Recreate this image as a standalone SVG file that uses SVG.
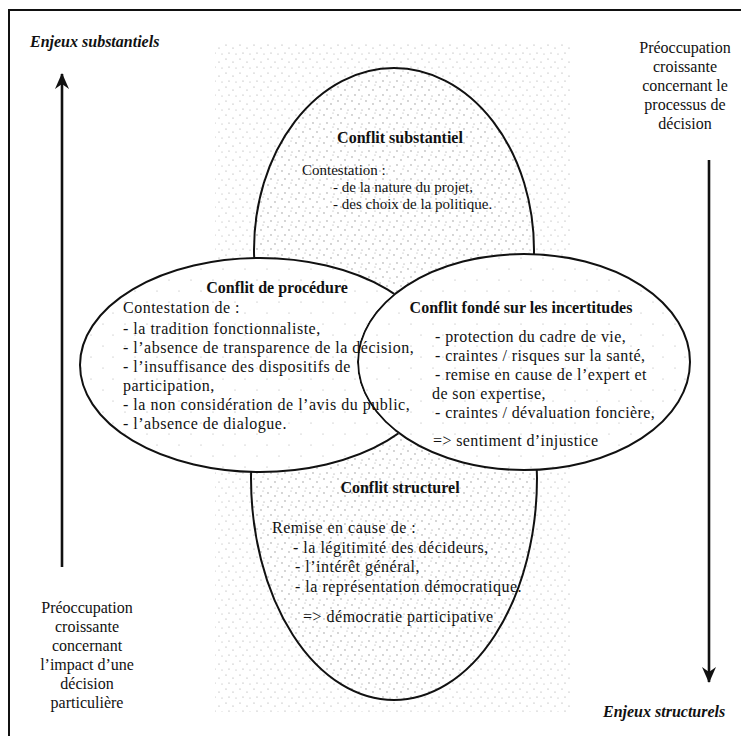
<svg xmlns="http://www.w3.org/2000/svg" width="741" height="736" viewBox="0 0 741 736">
<style>
  .t{font-family:"Liberation Serif","Times New Roman",serif;font-size:16px;fill:#111}
  .s{font-size:15px}
  .w{letter-spacing:0.5px}
  .b{font-weight:bold}
  .i{font-style:italic;font-weight:bold}
  .m{text-anchor:middle}
  .ell{stroke:#111;stroke-width:2}
  .frame{stroke:#111;stroke-width:2;fill:none}
  .arrow{stroke:#111;stroke-width:2.6;fill:none}
</style>
<defs>
  <pattern id="dots" width="14" height="14" patternUnits="userSpaceOnUse">
    <circle cx="2" cy="3" r="0.6" fill="#999"/>
    <circle cx="9" cy="6" r="0.6" fill="#999"/>
    <circle cx="5" cy="11" r="0.6" fill="#999"/>
    <circle cx="12" cy="12" r="0.5" fill="#999"/>
  </pattern>
  <pattern id="dotsW" width="14" height="14" patternUnits="userSpaceOnUse">
    <rect width="14" height="14" fill="#fff"/>
    <circle cx="2" cy="3" r="0.65" fill="#888"/>
    <circle cx="9" cy="6" r="0.65" fill="#888"/>
    <circle cx="5" cy="11" r="0.65" fill="#888"/>
    <circle cx="12" cy="12" r="0.55" fill="#888"/>
    <circle cx="11" cy="1" r="0.5" fill="#999"/>
  </pattern>
  <pattern id="sparseW" width="22" height="22" patternUnits="userSpaceOnUse">
    <rect width="22" height="22" fill="#fff"/>
    <circle cx="3" cy="5" r="0.55" fill="#aaa"/>
    <circle cx="15" cy="16" r="0.55" fill="#aaa"/>
  </pattern>
  <mask id="notRight" maskUnits="userSpaceOnUse" x="0" y="0" width="741" height="736">
    <rect width="741" height="736" fill="#fff"/>
    <ellipse cx="524" cy="362" rx="167" ry="109" fill="#000"/>
  </mask>
  <marker id="head" markerWidth="16" markerHeight="14" refX="15" refY="7" orient="auto" markerUnits="userSpaceOnUse" viewBox="0 0 16 14">
    <path d="M0 0 L16 7 L0 14 L5 7 Z" fill="#111"/>
  </marker>
</defs>

<rect width="741" height="736" fill="#fff"/>
<path class="frame" d="M9 736 V10 H741"/>
<rect x="215" y="42" width="355" height="670" fill="url(#dots)"/>

<g id="node-structurel">
  <ellipse class="ell" cx="394" cy="478" rx="143" ry="222" fill="url(#dotsW)"/>
  <text class="t b m" x="400" y="493">Conflit structurel</text>
  <text class="t w" x="272" y="533">Remise en cause de :</text>
  <text class="t w" x="293" y="553">- la légitimité des décideurs,</text>
  <text class="t w" x="295" y="572">- l’intérêt général,</text>
  <text class="t w" x="295" y="592">- la représentation démocratique.</text>
  <text class="t w" x="303" y="622">=&gt; démocratie participative</text>
</g>

<g id="node-substantiel">
  <ellipse class="ell" cx="394" cy="250" rx="140" ry="182" fill="url(#dotsW)"/>
  <text class="t b m" x="400" y="143">Conflit substantiel</text>
  <text class="t s" x="302" y="175">Contestation :</text>
  <text class="t s" x="333" y="192">- de la nature du projet,</text>
  <text class="t s" x="333" y="209">- des choix de la politique.</text>
</g>

<g id="node-incertitudes">
  <ellipse class="ell" cx="524" cy="362" rx="166" ry="108" fill="url(#sparseW)"/>
  <text class="t b m" x="521" y="313">Conflit fondé sur les incertitudes</text>
  <text class="t" x="435" y="342" letter-spacing="0.4">- protection du cadre de vie,</text>
  <text class="t" x="435" y="361" letter-spacing="0.4">- craintes / risques sur la santé,</text>
  <text class="t" x="435" y="380" letter-spacing="0.4">- remise en cause de l’expert et</text>
  <text class="t" x="432" y="399" letter-spacing="0.4">de son expertise,</text>
  <text class="t" x="435" y="418" letter-spacing="0.4">- craintes / dévaluation foncière,</text>
  <text class="t" x="433" y="446" letter-spacing="0.4">=&gt; sentiment d’injustice</text>
</g>

<g id="node-procedure">
  <ellipse class="ell" cx="260" cy="365" rx="180" ry="107" fill="url(#sparseW)" mask="url(#notRight)"/>
  <text class="t b m" x="277" y="293">Conflit de procédure</text>
  <text class="t w" x="123" y="313">Contestation de :</text>
  <text class="t w" x="123" y="334">- la tradition fonctionnaliste,</text>
  <text class="t w" x="123" y="353">- l’absence de transparence de la décision,</text>
  <text class="t w" x="123" y="372">- l’insuffisance des dispositifs de</text>
  <text class="t w" x="123" y="391">participation,</text>
  <text class="t w" x="123" y="410">- la non considération de l’avis du public,</text>
  <text class="t w" x="123" y="429">- l’absence de dialogue.</text>
</g>

<g id="connectors">
  <line class="arrow" x1="62" y1="567" x2="62" y2="74" marker-end="url(#head)"/>
  <line class="arrow" x1="709" y1="160" x2="709" y2="682" marker-end="url(#head)"/>
</g>

<g id="labels">
  <text class="t i" x="30" y="47">Enjeux substantiels</text>
  <text class="t i" x="603" y="717">Enjeux structurels</text>
  <g class="t m">
    <text x="685" y="53">Préoccupation</text>
    <text x="685" y="72">croissante</text>
    <text x="685" y="91">concernant le</text>
    <text x="685" y="110">processus de</text>
    <text x="685" y="129">décision</text>
  </g>
  <g class="t m">
    <text x="87" y="613">Préoccupation</text>
    <text x="87" y="632">croissante</text>
    <text x="87" y="651">concernant</text>
    <text x="87" y="670">l’impact d’une</text>
    <text x="87" y="689">décision</text>
    <text x="87" y="708">particulière</text>
  </g>
</g>
</svg>
